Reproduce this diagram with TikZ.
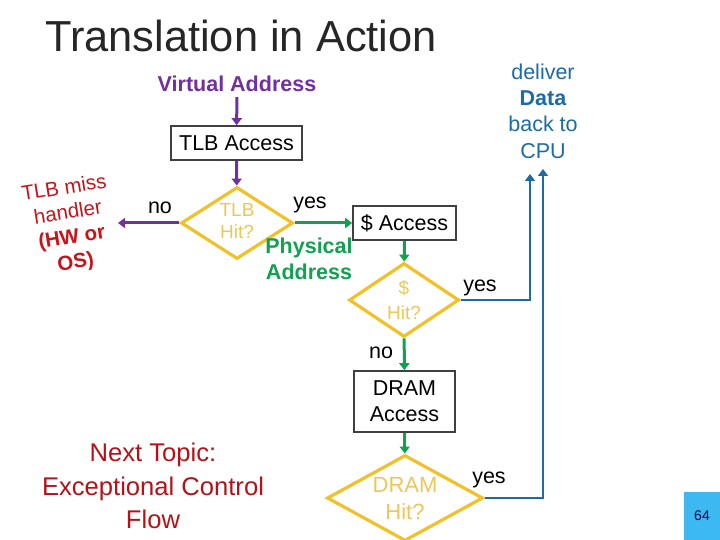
\documentclass[tikz,border=0pt]{standalone}
\usepackage{fontspec}
\setmainfont{Liberation Sans}
\usetikzlibrary{shapes.geometric,arrows.meta}
\definecolor{vpurple}{HTML}{7030A0}
\definecolor{pgreen}{HTML}{12A150}
\definecolor{hyellow}{HTML}{F2C029}
\definecolor{tyellow}{HTML}{EEC657}
\definecolor{dblue}{HTML}{1C6AA6}
\definecolor{mred}{HTML}{CC1218}
\definecolor{pagebox}{HTML}{3CB9F0}
\begin{document}
\begin{tikzpicture}[x=1pt,y=-1pt,
  txt/.style={inner sep=1pt, align=center, font={\fontsize{21.5}{26}\selectfont}},
  stepbox/.style={draw=black!75, line width=1.6pt, inner sep=0pt, txt},
  hit/.style={diamond, draw=hyellow, line width=3.2pt, inner sep=0pt},
  hittxt/.style={txt, text=tyellow},
  conn/.style={line width=3pt, -{Triangle[length=7pt,width=10pt]}},
  ]
\useasboundingbox (0,0) rectangle (720,540);
\node[inner sep=0pt, font={\fontsize{43.4}{50}\selectfont}, text=black!85] (title) at (241,36) {Translation in Action};
% TLB stage
\node[txt, text=vpurple, font={\fontsize{21.5}{26}\selectfont\bfseries}] (va) at (237,84) {Virtual Address};
\node[stepbox, minimum width=131pt, minimum height=34pt] (tlbacc) at (236.5,143) {TLB Access};
\node[hit, minimum width=112pt, minimum height=72pt] (tlbhit) at (237,223) {};
\node[hittxt, font={\fontsize{19}{22}\selectfont}] (tlbhittxt) at (237,221) {TLB\\Hit?};
\draw[conn, vpurple, shorten <=4pt] (va) -- (tlbacc);
\draw[conn, vpurple] (tlbacc) -- (tlbhit);
\coordinate (missin) at (118,223);
\draw[conn, vpurple] (tlbhit.west) -- (missin);
\node[txt] (no1) at (160,208) {no};
\node[txt, text=mred, rotate=9, font={\fontsize{20.5}{25}\selectfont}] (miss) at (70,226)
  {TLB miss\\handler\\\textbf{(HW or}\\\textbf{OS)}};
\node[txt] (yes1) at (310,205) {yes};
\node[txt, text=pgreen, font={\fontsize{21.5}{26}\selectfont\bfseries}] (pa) at (309,259) {Physical\\Address};
% cache stage
\node[stepbox, minimum width=103pt, minimum height=34pt] (cacc) at (404.5,223) {\$ Access};
\draw[conn, pgreen] (tlbhit.east) -- (cacc);
\node[hit, minimum width=110pt, minimum height=74pt] (chit) at (404,300) {};
\node[hittxt, font={\fontsize{19}{25}\selectfont}] (chittxt) at (404,300) {\$\\Hit?};
\draw[conn, pgreen] (cacc) -- (chit);
\node[txt] (yes2) at (480,288) {yes};
\node[txt] (no2) at (381,353) {no};
% DRAM stage
\node[stepbox, minimum width=101pt, minimum height=61pt] (dracc) at (404.5,401.5) {DRAM\\Access};
\draw[conn, pgreen] (chit) -- (dracc);
\node[hit, minimum width=156pt, minimum height=86pt] (drhit) at (405,498) {};
\node[hittxt, font={\fontsize{22}{27}\selectfont}] (drhittxt) at (405,499) {DRAM\\Hit?};
\draw[conn, pgreen] (dracc) -- (drhit);
\node[txt] (yes3) at (489,480) {yes};
% back to CPU
\node[txt, text=dblue, font={\fontsize{21.5}{26.3}\selectfont}] (cpu) at (543,111) {deliver\\\textbf{Data}\\back to\\CPU};
\coordinate (up1) at (530,174);
\coordinate (up2) at (543,169);
\draw[conn, dblue, line width=2.6pt] (chit.east) -| (up1);
\draw[conn, dblue, line width=2.6pt] (drhit.east) -| (up2);
\node[txt, text=mred!90!black, font={\fontsize{25.6}{33.5}\selectfont}] (next) at (153,486) {Next Topic:\\Exceptional Control\\Flow};
% page number
\fill[pagebox] (684,492) rectangle (720,540);
\node[inner sep=0pt, text=black!70!blue, font={\fontsize{14}{16}\selectfont}] (pg) at (702,516) {64};
\end{tikzpicture}
\end{document}
